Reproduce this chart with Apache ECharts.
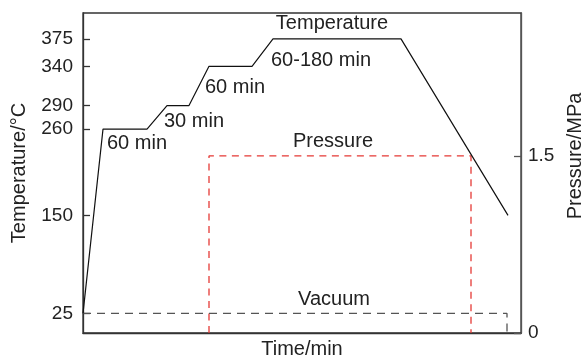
<!DOCTYPE html>
<html>
<head>
<meta charset="utf-8">
<script src="https://cdn.jsdelivr.net/npm/echarts@6/dist/echarts.min.js"></script>
<style>
  html, body { margin: 0; padding: 0; background: #fff; }
  #chart { width: 583px; height: 360px; }
</style>
</head>
<body>
<div id="chart"></div>
<script>
// time axis has no scale in the figure, so x is in arbitrary units
const tempTime = [0, 20, 64, 84, 106, 126, 169, 190, 318, 425]
const tempValues = [25, 260, 260, 290, 290, 340, 340, 375, 375, 150]

const pressureTime = [126, 126, 388, 388]
const pressureValues = [0, 1.5, 1.5, 0]

const vacuumTime = [0, 424, 424]
const vacuumValues = [25, 25, 0]

const tempTicks = [25, 150, 260, 290, 340, 375]
const pressureTicks = [0, 1.5]

// text notes, placed in data units (x, temperature)
const noteText = ['Temperature', '60 min', '30 min', '60 min', '60-180 min', 'Pressure', 'Vacuum']
const noteX = [249, 54, 111, 152, 238, 250, 251]
const noteY = [394, 241, 270, 313, 348, 244.5, 43]

const zip = (xs, ys) => xs.map((x, i) => [x, ys[i]])

const FONT = 'Liberation Sans, Arial, Helvetica, sans-serif'
const AXIS_COLOR = '#333'

const myChart = echarts.init(document.getElementById('chart'), null, { renderer: 'canvas' })

const option = {
  animation: false,
  backgroundColor: '#fff',
  textStyle: { fontFamily: FONT },
  grid: {
    left: 83, right: 62, top: 13, bottom: 27,
    containLabel: false,
    outerBoundsMode: 'none',
    show: true, borderColor: AXIS_COLOR, borderWidth: 1.3, backgroundColor: 'transparent'
  },
  xAxis: {
    type: 'value',
    min: 0,
    max: 438,
    name: 'Time/min',
    nameLocation: 'middle',
    nameGap: 6,
    nameTextStyle: { fontSize: 20, color: '#222', fontFamily: FONT },
    axisLine: { lineStyle: { color: AXIS_COLOR, width: 1.3 } },
    axisTick: { show: false },
    axisLabel: { show: false },
    splitLine: { show: false }
  },
  yAxis: [{
    type: 'value',
    min: 0,
    max: 408,
    name: 'Temperature/°C',
    nameLocation: 'middle',
    nameGap: 54,
    nameTextStyle: { fontSize: 20, color: '#222', fontFamily: FONT },
    axisLine: { show: true, lineStyle: { color: AXIS_COLOR, width: 1.3 } },
    axisTick: { show: true, inside: true, length: 7, customValues: tempTicks, lineStyle: { color: AXIS_COLOR, width: 1.3 } },
    axisLabel: { customValues: tempTicks, margin: 10, fontSize: 19, color: '#222', fontFamily: FONT },
    splitLine: { show: false }
  }, {
    type: 'value',
    position: 'right',
    min: 0,
    max: 2.71,
    name: 'Pressure/MPa',
    nameLocation: 'middle',
    nameGap: 39,
    nameTextStyle: { fontSize: 20, color: '#222', fontFamily: FONT, padding: [0, 0, 0, 34] },
    axisLine: { show: true, lineStyle: { color: '#555', width: 1.3 } },
    axisTick: { show: true, inside: true, length: 7, customValues: pressureTicks, lineStyle: { color: '#555', width: 1.3 } },
    axisLabel: { customValues: pressureTicks, margin: 7, fontSize: 19, color: '#222', fontFamily: FONT },
    splitLine: { show: false }
  }],
  series: [{
    name: 'Temperature',
    type: 'line',
    yAxisIndex: 0,
    data: zip(tempTime, tempValues),
    symbol: 'none',
    lineStyle: { color: '#111', width: 1.2 },
    z: 4
  }, {
    name: 'Pressure',
    type: 'line',
    yAxisIndex: 1,
    data: zip(pressureTime, pressureValues),
    symbol: 'none',
    lineStyle: { color: '#e53935', width: 1.3, type: [7, 5.5] },
    z: 3
  }, {
    name: 'Vacuum',
    type: 'line',
    yAxisIndex: 0,
    data: zip(vacuumTime, vacuumValues),
    symbol: 'none',
    lineStyle: { color: '#555', width: 1.3, type: [8, 6] },
    z: 3
  }, {
    name: 'notes',
    type: 'scatter',
    yAxisIndex: 0,
    silent: true,
    symbolSize: 0.1,
    itemStyle: { color: 'transparent', opacity: 1 },
    data: noteText.map((t, i) => ({ name: t, value: [noteX[i], noteY[i]] })),
    label: {
      show: true,
      position: 'inside',
      formatter: p => p.name,
      fontSize: 20,
      color: '#222',
      fontFamily: FONT,
      align: 'center',
      verticalAlign: 'middle'
    },
    z: 5
  }]
}

myChart.setOption(option)
window.addEventListener('resize', () => myChart.resize())
</script>
</body>
</html>
